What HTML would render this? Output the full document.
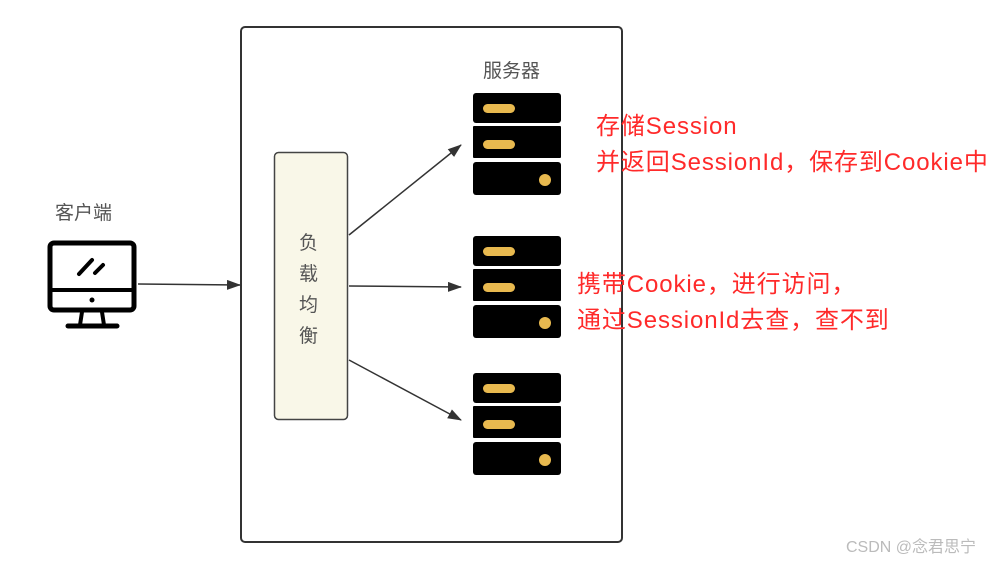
<!DOCTYPE html>
<html><head><meta charset="utf-8"><style>
body{margin:0;width:1001px;height:561px;background:#fff;position:relative;overflow:hidden;font-family:"Liberation Sans","Noto Sans CJK SC",sans-serif}
.t{position:absolute;white-space:nowrap}
.red{color:#ff2a2a;font-size:24px;line-height:36px;letter-spacing:0.9px}
</style></head><body>
<svg width="1001" height="561" style="position:absolute;left:0;top:0">
<defs><marker id="a" markerWidth="14" markerHeight="10" refX="13" refY="5" orient="auto" markerUnits="userSpaceOnUse"><path d="M0,0 L14,5 L0,10 Z" fill="#333"/></marker></defs>
<rect x="241" y="27" width="381" height="515" rx="4" fill="#fff" stroke="#333" stroke-width="2"/>
<rect x="274.5" y="152.5" width="73" height="267" rx="4" fill="#f9f7e8" stroke="#444" stroke-width="1.5"/>
<line x1="138" y1="284" x2="240" y2="285" stroke="#333" stroke-width="1.5" marker-end="url(#a)"/>
<line x1="349" y1="235" x2="461" y2="145" stroke="#333" stroke-width="1.5" marker-end="url(#a)"/>
<line x1="349" y1="286" x2="461" y2="287" stroke="#333" stroke-width="1.5" marker-end="url(#a)"/>
<line x1="349" y1="360" x2="461" y2="420" stroke="#333" stroke-width="1.5" marker-end="url(#a)"/>
<rect x="50" y="243" width="84" height="67" rx="4" fill="#fff" stroke="#000" stroke-width="5"/>
<line x1="50" y1="290" x2="134" y2="290" stroke="#000" stroke-width="4"/>
<circle cx="92" cy="300" r="2.5" fill="#000"/>
<line x1="79" y1="274" x2="92" y2="260" stroke="#000" stroke-width="4" stroke-linecap="round"/>
<line x1="95" y1="273" x2="103" y2="265" stroke="#000" stroke-width="4" stroke-linecap="round"/>
<path d="M82 312 L80 325 M102 312 L104 325" stroke="#000" stroke-width="4"/>
<line x1="68" y1="326" x2="117" y2="326" stroke="#000" stroke-width="5" stroke-linecap="round"/>
<g id="s">
<rect x="473" y="93" width="88" height="30" rx="3" fill="#000"/>
<rect x="473" y="126" width="88" height="32" rx="1" fill="#000"/>
<rect x="473" y="162" width="88" height="33" rx="3" fill="#000"/>
<rect x="483" y="104" width="32" height="9" rx="4.5" fill="#e8b94f"/>
<rect x="483" y="140" width="32" height="9" rx="4.5" fill="#e8b94f"/>
<circle cx="545" cy="180" r="6" fill="#e8b94f"/>
</g>
<use href="#s" y="143"/>
<use href="#s" y="280"/>
</svg>
<div class="t" style="left:55px;top:198px;font-size:19px;color:#555">客户端</div>
<div class="t" style="left:483px;top:56px;font-size:19px;color:#555">服务器</div>
<div class="t" style="left:299px;top:228px;font-size:19px;color:#555;line-height:31px;width:24px;white-space:normal">负载均衡</div>
<div class="t red" style="left:596px;top:109px">存储Session<br>并返回SessionId，保存到Cookie中</div>
<div class="t red" style="left:577px;top:267px">携带Cookie，进行访问，<br>通过SessionId去查，查不到</div>
<div class="t" style="left:846px;top:533px;font-size:16px;color:#bbb">CSDN @念君思宁</div>
</body></html>
